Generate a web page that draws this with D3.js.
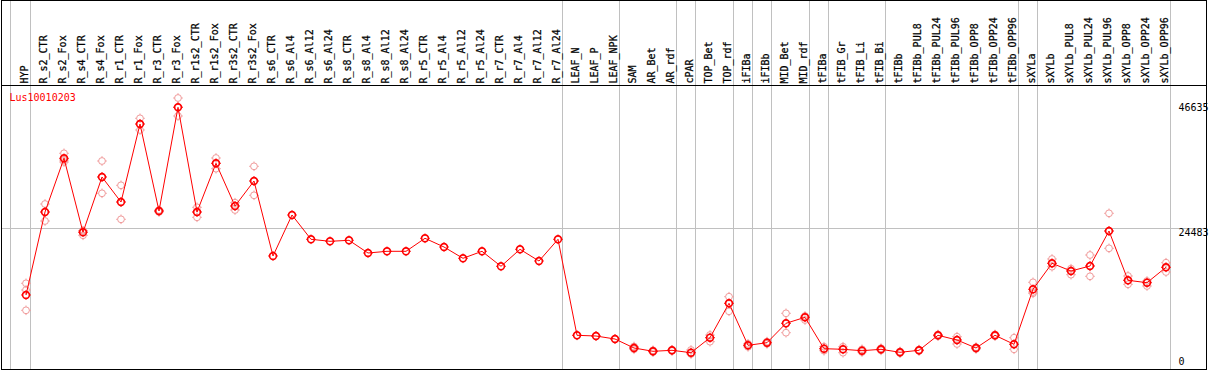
<!DOCTYPE html>
<html>
<head>
<meta charset="utf-8">
<script src="https://cdn.jsdelivr.net/npm/d3@7"></script>
<style>
  body { margin: 0; background: #fff; }
  svg text { font-family: "DejaVu Sans Mono", monospace; font-size: 10px; }
  svg text.lbl { stroke: #000; stroke-width: 0.25px; }
</style>
</head>
<body>
<svg id="chart" width="1209" height="370"></svg>
<script>
// sample names, in plotting order
const samples = ["HYP", "R_s2_CTR", "R_s2_Fox", "R_s4_CTR", "R_s4_Fox", "R_r1_CTR", "R_r1_Fox",
    "R_r3_CTR", "R_r3_Fox", "R_r1s2_CTR", "R_r1s2_Fox", "R_r3s2_CTR", "R_r3s2_Fox", "R_s6_CTR",
    "R_s6_Al4", "R_s6_Al12", "R_s6_Al24", "R_s8_CTR", "R_s8_Al4", "R_s8_Al12", "R_s8_Al24",
    "R_r5_CTR", "R_r5_Al4", "R_r5_Al12", "R_r5_Al24", "R_r7_CTR", "R_r7_Al4", "R_r7_Al12",
    "R_r7_Al24", "LEAF_N", "LEAF_P", "LEAF_NPK", "SAM", "AR_Bet", "AR_rdf", "cPAR", "TOP_Bet",
    "TOP_rdf", "iFIBa", "iFIBb", "MID_Bet", "MID_rdf", "tFIBa", "tFIB_Gr", "tFIB_Li", "tFIB_Bi",
    "tFIBb", "tFIBb_PUL8", "tFIBb_PUL24", "tFIBb_PUL96", "tFIBb_OPP8", "tFIBb_OPP24",
    "tFIBb_OPP96", "sXYLa", "sXYLb", "sXYLb_PUL8", "sXYLb_PUL24", "sXYLb_PUL96", "sXYLb_OPP8",
    "sXYLb_OPP24", "sXYLb_OPP96"];

// mean expression per sample
const means = [12402, 27539, 37333, 23837, 33923, 29363, 43589, 27722, 46635, 27539, 36421,
    28634, 33193, 19515, 26992, 22560, 22196, 22378, 20062, 20372, 20372, 22743, 21156, 19095,
    20372, 17636, 20737, 18603, 22560, 5052, 4924, 4377, 2736, 2134, 2316, 1879, 4614, 10888,
    3228, 3702, 7240, 8335, 2608, 2499, 2243, 2499, 1951, 2316, 5052, 4195, 2736, 5052, 3411,
    13441, 18183, 16779, 17691, 24074, 15083, 14645, 17454];

// replicate values per sample
const replicates = [
    [14536, 13314, 9611], [28998, 25898, 27539], [38245, 37023, 36658], [24129, 23290, 24074],
    [36841, 30950, 33923], [32409, 26208, 29363], [44628, 42495, 43589], [27904, 27539, 27722],
    [48331, 45048, 46689], [28397, 26573, 27539], [37388, 35437, 36421], [29235, 27904, 28634],
    [35874, 30585, 33193], [], [], [], [], [], [], [], [], [], [], [], [], [], [], [], [],
    [5052], [4924], [4377], [3009, 2499, 2736], [2316, 2000, 2134], [2400, 2200, 2316],
    [2371, 1641, 1879], [5107, 3885, 4614], [12092, 9429, 10888], [3500, 2950, 3228],
    [3900, 3500, 3702], [9064, 5526, 7240], [7842, 8572, 8335], [2973, 2243, 2608],
    [2973, 1879, 2499], [2500, 2000, 2243], [2700, 2300, 2499], [2100, 1800, 1951],
    [2450, 2200, 2316], [5200, 4900, 5052], [4797, 3465, 4195], [2900, 2550, 2736],
    [5200, 4900, 5052], [4614, 2499, 3411], [14718, 12712, 12949], [18968, 17563, 18183],
    [17198, 16104, 16779], [19697, 15812, 17691], [27302, 20919, 24074], [15867, 14353, 15083],
    [14955, 14043, 14645], [18293, 16597, 17454]];

// indices of samples after which a group separator is drawn
const groupEnds = [0, 28, 31, 34, 35, 37, 38, 39, 41, 42, 45, 52, 53, 60];

// right-hand value labels and the horizontal reference line
const yLabels = [46635, 24483, 0];
const refValue = 24483;
const geneName = "Lus10010203";

const svg = d3.select("#chart");
const W = 1209, H = 370, headerY = 85;

const x = d3.scaleBand().domain(samples).range([11, 11 + 19 * samples.length]);
const cx = d => x(d) + 15;
const y = d3.scaleLinear().domain([0, 46635]).range([363, 107.3]);

// separators
svg.append("line")
    .attr("x1", x(samples[0]) - 0.5).attr("x2", x(samples[0]) - 0.5)
    .attr("y1", 0).attr("y2", H)
    .attr("stroke", "#c0c0c0");
svg.selectAll(".sep")
    .data(groupEnds)
  .enter().append("line")
    .attr("class", "sep")
    .attr("x1", i => x(samples[i]) + 19.5).attr("x2", i => x(samples[i]) + 19.5)
    .attr("y1", 0).attr("y2", H)
    .attr("stroke", "#c0c0c0");

// reference line
const ry = Math.round(y(refValue)) - 0.5;
svg.append("line")
    .attr("x1", 1).attr("x2", 1207)
    .attr("y1", ry).attr("y2", ry)
    .attr("stroke", "#c0c0c0");

// frame and header divider
svg.append("rect")
    .attr("x", 1.5).attr("y", 0.5).attr("width", 1205).attr("height", 369)
    .attr("fill", "none").attr("stroke", "#000");
svg.append("line")
    .attr("x1", 1).attr("x2", 1207).attr("y1", headerY + 0.5).attr("y2", headerY + 0.5)
    .attr("stroke", "#000");

// rotated sample labels
svg.selectAll(".lbl")
    .data(samples)
  .enter().append("text")
    .attr("class", "lbl")
    .attr("transform", d => "translate(" + (cx(d) + 2) + "," + (headerY - 1.5) + ") rotate(-90)")
    .attr("fill", "#000")
    .text(d => d);

// value labels
svg.selectAll(".vlbl")
    .data(yLabels)
  .enter().append("text")
    .attr("class", "vlbl")
    .attr("x", 1178.5)
    .attr("y", d => d === refValue ? ry + 7.5 : Math.min(y(d) + 3.7, 365.3))
    .attr("fill", "#000")
    .text(d => d);

// gene name
svg.append("text")
    .attr("x", 9.5).attr("y", 100.7)
    .attr("fill", "#f00")
    .text(geneName);

function marker(g, px, py, col, sw) {
    g.append("circle")
        .attr("cx", px).attr("cy", py).attr("r", 3.4)
        .attr("fill", "none").attr("stroke", col).attr("stroke-width", sw);
    [[0, -1], [0, 1], [-1, 0], [1, 0]].forEach(function(v) {
        g.append("line")
            .attr("x1", px + v[0] * 3.5).attr("y1", py + v[1] * 3.5)
            .attr("x2", px + v[0] * 4.8).attr("y2", py + v[1] * 4.8)
            .attr("stroke", col).attr("stroke-width", 1);
    });
}

// replicates
const repG = svg.append("g");
samples.forEach(function(s, i) {
    replicates[i].forEach(function(v) { marker(repG, cx(s), y(v), "#f09a9a", 1); });
});

// mean line
svg.append("path")
    .datum(means)
    .attr("fill", "none")
    .attr("stroke", "#f00")
    .attr("stroke-width", 1)
    .attr("d", d3.line().x((d, i) => cx(samples[i])).y(d => y(d)));

// mean markers
const meanG = svg.append("g");
means.forEach(function(v, i) { marker(meanG, cx(samples[i]), y(v), "#f00", 1.6); });
</script>
</body>
</html>
